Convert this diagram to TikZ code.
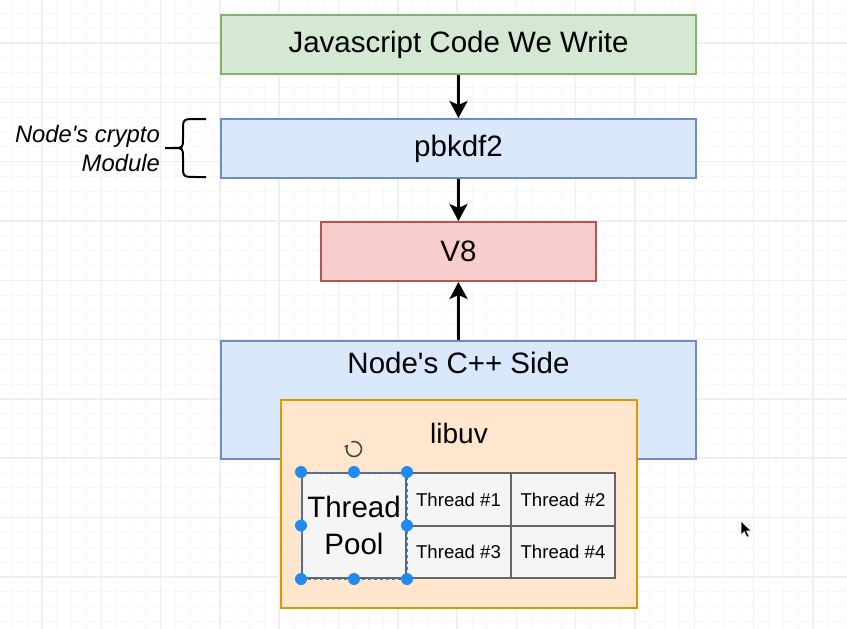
\documentclass[tikz,border=0pt]{standalone}
\usepackage{fontspec}
\setmainfont{Liberation Sans}
\usetikzlibrary{arrows.meta}

\definecolor{codeFill}{HTML}{D5E8D4}
\definecolor{codeLine}{HTML}{82B366}
\definecolor{blueFill}{HTML}{DAE8FC}
\definecolor{blueLine}{HTML}{6C8EBF}
\definecolor{vFill}{HTML}{F8CECC}
\definecolor{vLine}{HTML}{B85450}
\definecolor{uvFill}{HTML}{FFE6CC}
\definecolor{uvLine}{HTML}{D79B00}
\definecolor{poolFill}{HTML}{F5F5F5}
\definecolor{poolLine}{HTML}{666666}
\definecolor{handleBlue}{HTML}{1F8BF0}
\definecolor{majorGrid}{HTML}{EFEFEF}
\definecolor{minorGrid}{HTML}{F8F8F8}

\tikzset{
  box/.style={draw, line width=2pt, inner sep=0pt, font=\fontsize{29.5}{37}\selectfont},
  cell/.style={draw=poolLine, fill=poolFill, line width=2pt, inner sep=0pt,
    minimum width=104.5, minimum height=52.5, font=\fontsize{18.6}{22}\selectfont},
  flow/.style={-{Stealth[length=17pt, width=18pt, inset=4pt]}, line width=3pt},
  handle/.style={fill=handleBlue},
}

\begin{document}
\begin{tikzpicture}[x=1pt, y=-1pt]
  \useasboundingbox (0,0) rectangle (847,629);
  \fill[white] (0,0) rectangle (847,629);
  % grid
  \foreach \i in {0,...,57} {
    \draw[minorGrid, line width=1pt] ({12.3+14.83*\i},0) -- ({12.3+14.83*\i},629);
    \draw[minorGrid, line width=1pt] (0,{13.4+14.83*\i}) -- (847,{13.4+14.83*\i});
  }
  \foreach \i in {0,...,14} {
    \draw[majorGrid, line width=1.5pt] ({42-59.3+59.3*\i},0) -- ({42-59.3+59.3*\i},629);
    \draw[majorGrid, line width=1.5pt] (0,{43.1+59.3*\i}) -- (847,{43.1+59.3*\i});
  }

  \node[box, fill=codeFill, draw=codeLine, minimum width=475, minimum height=59] (code) at (458.5,44.5) {Javascript Code We Write};
  \node[box, fill=blueFill, draw=blueLine, minimum width=475, minimum height=59] (crypto) at (458.5,148.5) {pbkdf2};
  \node[box, fill=vFill, draw=vLine, minimum width=275, minimum height=59] (v8) at (458.5,251.5) {V8};
  \node[box, fill=blueFill, draw=blueLine, minimum width=475, minimum height=118] (cpp) at (458.5,400) {};
  \node[font=\fontsize{29.5}{37}\selectfont] (cppText) at (458.5,363) {Node\textquotesingle s C++ Side};
  \node[box, fill=uvFill, draw=uvLine, minimum width=356, minimum height=208] (libuv) at (459,504) {};
  \node[font=\fontsize{28}{34}\selectfont] (libuvText) at (459,433) {libuv};

  \node[box, fill=poolFill, draw=poolLine, minimum width=104, minimum height=105, align=center] (pool) at (354,525.5) {Thread\\Pool};
  \node[cell] (threadA) at (458.5,499.5) {Thread \#1};
  \node[cell] (threadB) at (563,499.5) {Thread \#2};
  \node[cell] (threadC) at (458.5,552) {Thread \#3};
  \node[cell] (threadD) at (563,552) {Thread \#4};

  \draw[flow] (code) -- (crypto);
  \draw[flow] (crypto) -- (v8);
  \draw[flow] (cpp) -- (v8);

  % brace and note
  \draw[line width=2pt] (206,119) -- (196,119) .. controls (183,119) .. (183,131) -- (183,138) .. controls (183,148) .. (173,148) -- (165,148);
  \draw[line width=2pt] (206,177) -- (196,177) .. controls (183,177) .. (183,165) -- (183,158) .. controls (183,148) .. (173,148);
  \node[anchor=east, align=right, inner sep=0pt, font=\itshape\fontsize{23.8}{29}\selectfont] (note) at (160,148) {Node\textquotesingle s crypto\\Module};

  % selection
  \draw[handleBlue, line width=1pt, dashed] (pool.north west) rectangle (pool.south east);
  \foreach \a in {north west, north, north east, east, south east, south, south west, west}
    \fill[handle] (pool.\a) circle (6);
  \coordinate (rotIcon) at (354,449);
  \draw[poolLine!70!black, line width=1.6pt, -{Stealth[length=4pt, width=5pt]}] (rotIcon) ++(-110:7.5) arc[start angle=-110, end angle=215, radius=7.5];

  \coordinate (cursor) at (741,521);
  \fill[black, draw=white, line width=0.6pt] (cursor) -- ++(0,14) -- ++(3.3,-3.3) -- ++(2.6,5.5) -- ++(2.2,-1) -- ++(-2.6,-5.4) -- ++(4.6,0) -- cycle;
\end{tikzpicture}
\end{document}
